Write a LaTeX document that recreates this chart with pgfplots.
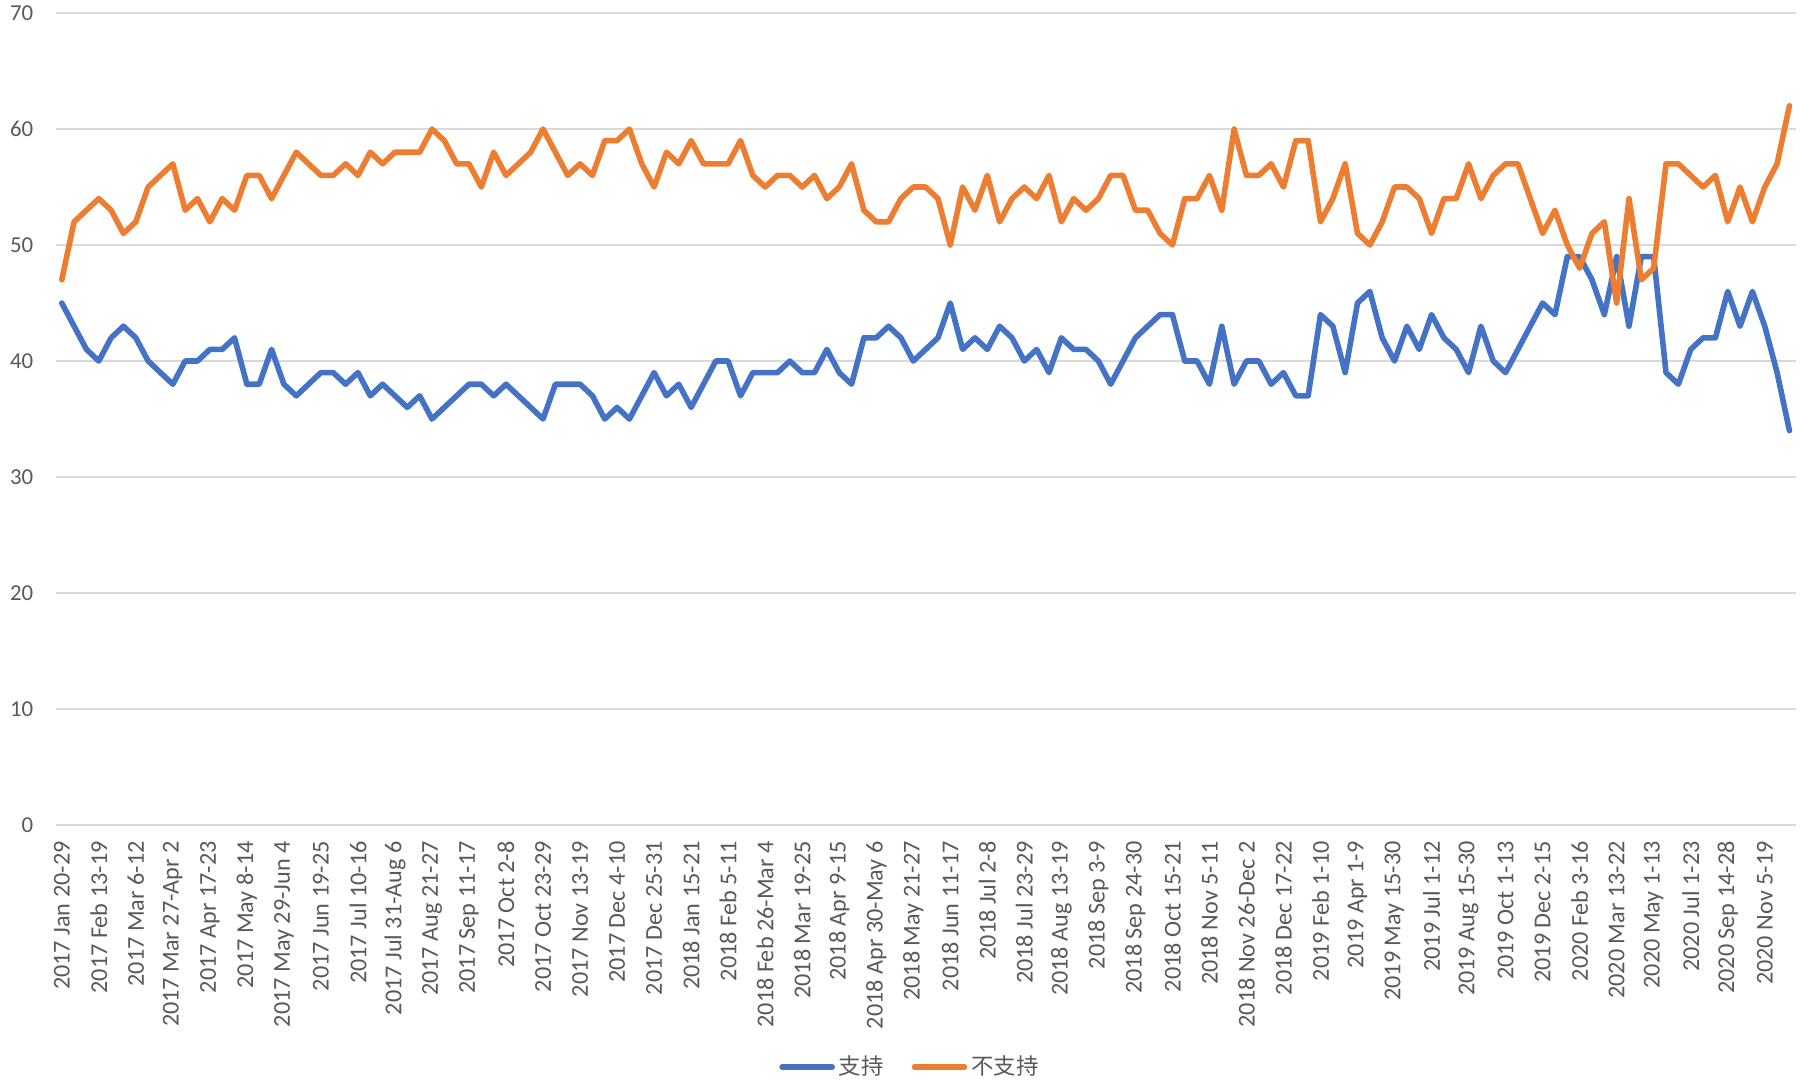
\documentclass[border=0pt]{standalone}
\usepackage{pgfplots}
\usepackage{pgfplotstable}
\usepackage{fontspec}
\pgfplotsset{compat=1.18}
\setmainfont{Carlito}
\newfontfamily\cjk{Noto Sans CJK SC}

\definecolor{supblue}{HTML}{4472C4}
\definecolor{oppor}{HTML}{ED7D31}
\definecolor{gridgray}{HTML}{D9D9D9}
\definecolor{txtgray}{HTML}{595959}

% idx  support  oppose
\pgfplotstableread{
i sup opp
0 45 47
1 43 52
2 41 53
3 40 54
4 42 53
5 43 51
6 42 52
7 40 55
8 39 56
9 38 57
10 40 53
11 40 54
12 41 52
13 41 54
14 42 53
15 38 56
16 38 56
17 41 54
18 38 56
19 37 58
20 38 57
21 39 56
22 39 56
23 38 57
24 39 56
25 37 58
26 38 57
27 37 58
28 36 58
29 37 58
30 35 60
31 36 59
32 37 57
33 38 57
34 38 55
35 37 58
36 38 56
37 37 57
38 36 58
39 35 60
40 38 58
41 38 56
42 38 57
43 37 56
44 35 59
45 36 59
46 35 60
47 37 57
48 39 55
49 37 58
50 38 57
51 36 59
52 38 57
53 40 57
54 40 57
55 37 59
56 39 56
57 39 55
58 39 56
59 40 56
60 39 55
61 39 56
62 41 54
63 39 55
64 38 57
65 42 53
66 42 52
67 43 52
68 42 54
69 40 55
70 41 55
71 42 54
72 45 50
73 41 55
74 42 53
75 41 56
76 43 52
77 42 54
78 40 55
79 41 54
80 39 56
81 42 52
82 41 54
83 41 53
84 40 54
85 38 56
86 40 56
87 42 53
88 43 53
89 44 51
90 44 50
91 40 54
92 40 54
93 38 56
94 43 53
95 38 60
96 40 56
97 40 56
98 38 57
99 39 55
100 37 59
101 37 59
102 44 52
103 43 54
104 39 57
105 45 51
106 46 50
107 42 52
108 40 55
109 43 55
110 41 54
111 44 51
112 42 54
113 41 54
114 39 57
115 43 54
116 40 56
117 39 57
118 41 57
119 43 54
120 45 51
121 44 53
122 49 50
123 49 48
124 47 51
125 44 52
126 49 45
127 43 54
128 49 47
129 49 48
130 39 57
131 38 57
132 41 56
133 42 55
134 42 56
135 46 52
136 43 55
137 46 52
138 43 55
139 39 57
140 34 62
}\polls

\begin{document}
\begin{tikzpicture}
\useasboundingbox (0,0) rectangle (908pt,542pt);
\begin{axis}[
    at={(27.8pt,129.5pt)}, anchor=south west,
    scale only axis, width=870pt, height=406pt,
    xmin=-0.5, xmax=140.5, ymin=0, ymax=70,
    ytick={0,10,...,70},
    xtick={0,3,...,138},
    xticklabels={2017 Jan 20-29, 2017 Feb 13-19, 2017 Mar 6-12, 2017 Mar 27-Apr 2,
      2017 Apr 17-23, 2017 May 8-14, 2017 May 29-Jun 4, 2017 Jun 19-25,
      2017 Jul 10-16, 2017 Jul 31-Aug 6, 2017 Aug 21-27, 2017 Sep 11-17,
      2017 Oct 2-8, 2017 Oct 23-29, 2017 Nov 13-19, 2017 Dec 4-10,
      2017 Dec 25-31, 2018 Jan 15-21, 2018 Feb 5-11, 2018 Feb 26-Mar 4,
      2018 Mar 19-25, 2018 Apr 9-15, 2018 Apr 30-May 6, 2018 May 21-27,
      2018 Jun 11-17, 2018 Jul 2-8, 2018 Jul 23-29, 2018 Aug 13-19,
      2018 Sep 3-9, 2018 Sep 24-30, 2018 Oct 15-21, 2018 Nov 5-11,
      2018 Nov 26-Dec 2, 2018 Dec 17-22, 2019 Feb 1-10, 2019 Apr 1-9,
      2019 May 15-30, 2019 Jul 1-12, 2019 Aug 15-30, 2019 Oct 1-13,
      2019 Dec 2-15, 2020 Feb 3-16, 2020 Mar 13-22, 2020 May 1-13,
      2020 Jul 1-23, 2020 Sep 14-28, 2020 Nov 5-19},
    axis line style={draw=none},
    major tick length=0pt,
    ymajorgrids,
    grid style={gridgray, line width=1pt},
    tick label style={font=\fontsize{11.4}{13}\selectfont, text=txtgray},
    /pgf/number format/assume math mode=true,
    xticklabel style={font=\fontsize{12.1}{14}\selectfont, yshift=-8pt, rotate=90, anchor=east, inner sep=0pt},
    yticklabel style={anchor=east, inner sep=0pt, xshift=-11pt},
    legend style={at={(0.4916,-0.298)}, anchor=center, draw=none, fill=none,
      legend columns=2, font=\cjk\fontsize{11.2}{13}\selectfont, text=txtgray,
      /tikz/every even column/.append style={column sep=12pt}},
    legend image code/.code={\draw[#1, line cap=round] (0pt,0pt) -- (25pt,0pt);},
    every axis plot/.append style={line width=2.8pt, line join=round, line cap=round},
]
\addplot[supblue] table[x=i, y=sup] {\polls};
\addlegendentry{支持}
\addplot[oppor] table[x=i, y=opp] {\polls};
\addlegendentry{不支持}
\end{axis}
\end{tikzpicture}
\end{document}
